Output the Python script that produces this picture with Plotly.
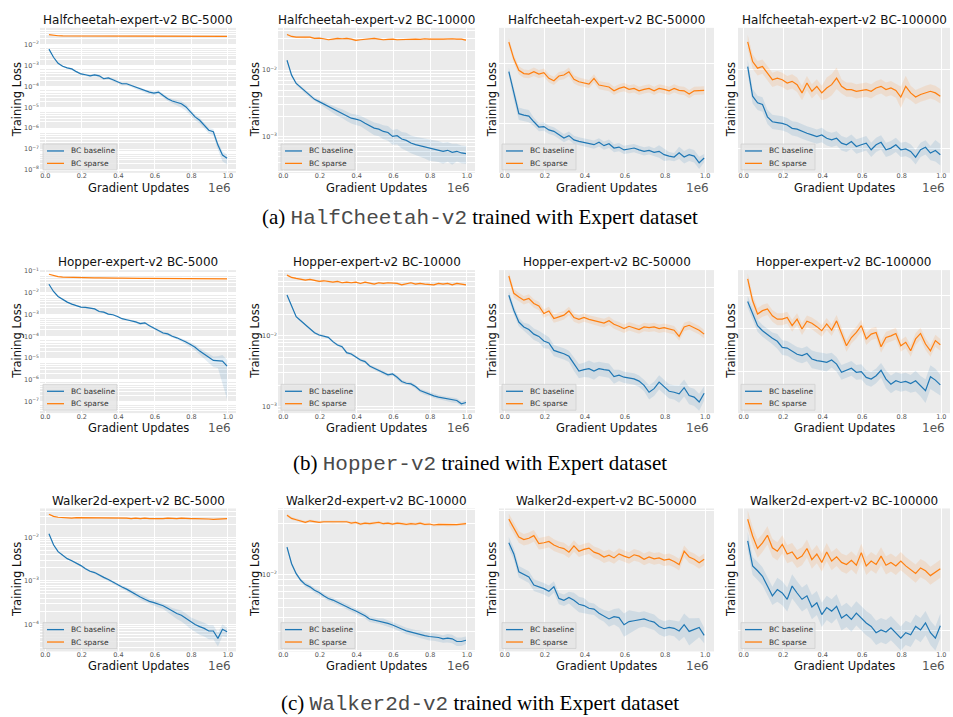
import numpy as np
import plotly.graph_objects as go

# ---------------- data (training loss stored as log10 values) ----------------
updates = [0.02, 0.045, 0.07, 0.095, 0.12, 0.145, 0.17, 0.195, 0.22, 0.245,
           0.27, 0.295, 0.32, 0.345, 0.37, 0.395, 0.42, 0.445, 0.47, 0.495,
           0.52, 0.545, 0.57, 0.595, 0.62, 0.645, 0.67, 0.695, 0.72, 0.745,
           0.77, 0.795, 0.82, 0.845, 0.87, 0.895, 0.92, 0.945, 0.97, 0.995]

# HalfCheetah
hc5k_baseline = [-2.21, -2.60, -2.89, -3.03, -3.11, -3.16, -3.29, -3.40, -3.44, -3.49,
                 -3.45, -3.49, -3.63, -3.59, -3.68, -3.79, -3.87, -3.87, -3.95, -4.06,
                 -4.11, -4.22, -4.27, -4.32, -4.27, -4.43, -4.59, -4.70, -4.75, -4.83,
                 -4.98, -5.22, -5.46, -5.62, -5.86, -6.10, -6.17, -6.81, -7.29, -7.44]
hc5k_sparse = [-1.52, -1.56, -1.57, -1.58, -1.58, -1.58, -1.59, -1.58, -1.58, -1.59,
               -1.58, -1.59, -1.59, -1.58, -1.59, -1.59, -1.59, -1.59, -1.58, -1.59,
               -1.59, -1.59, -1.59, -1.58, -1.59, -1.59, -1.59, -1.58, -1.59, -1.59,
               -1.60, -1.59, -1.59, -1.59, -1.60, -1.59, -1.60, -1.60, -1.60, -1.60]
hc5k_baseline_std = [0.05, 0.06, 0.08, 0.08, 0.08, 0.10, 0.10, 0.12, 0.12, 0.12,
                     0.15, 0.15, 0.12, 0.15, 0.15, 0.15, 0.15, 0.15, 0.15, 0.15,
                     0.18, 0.18, 0.20, 0.20, 0.20, 0.20, 0.22, 0.25, 0.30, 0.35,
                     0.35, 0.30, 0.30, 0.30, 0.30, 0.30, 0.35, 0.40, 0.50, 0.50]
hc5k_sparse_std = [0.03, 0.03, 0.03, 0.03, 0.02, 0.02, 0.02, 0.02, 0.02, 0.02,
                   0.02, 0.02, 0.02, 0.02, 0.02, 0.02, 0.02, 0.02, 0.02, 0.02,
                   0.02, 0.02, 0.02, 0.02, 0.02, 0.02, 0.02, 0.02, 0.02, 0.02,
                   0.02, 0.02, 0.02, 0.02, 0.02, 0.02, 0.02, 0.02, 0.02, 0.02]

hc10k_baseline = [-1.85, -2.075, -2.20, -2.26, -2.325, -2.39, -2.44, -2.475, -2.51, -2.55,
                  -2.59, -2.625, -2.65, -2.69, -2.725, -2.74, -2.76, -2.80, -2.84, -2.875,
                  -2.89, -2.925, -2.94, -3.00, -2.99, -3.04, -3.06, -3.10, -3.125, -3.14,
                  -3.16, -3.18, -3.19, -3.20, -3.225, -3.21, -3.24, -3.225, -3.25, -3.26]
hc10k_sparse = [-1.46, -1.49, -1.50, -1.50, -1.51, -1.50, -1.52, -1.515, -1.525, -1.54,
                -1.53, -1.52, -1.525, -1.52, -1.53, -1.55, -1.54, -1.53, -1.525, -1.52,
                -1.53, -1.54, -1.535, -1.53, -1.54, -1.535, -1.53, -1.525, -1.53, -1.535,
                -1.525, -1.53, -1.535, -1.53, -1.53, -1.525, -1.525, -1.53, -1.53, -1.545]
hc10k_baseline_std = [0.03, 0.04, 0.05, 0.05, 0.06, 0.06, 0.07, 0.08, 0.09, 0.10,
                      0.12, 0.14, 0.15, 0.16, 0.17, 0.18, 0.18, 0.20, 0.20, 0.22,
                      0.22, 0.24, 0.25, 0.25, 0.26, 0.28, 0.30, 0.30, 0.32, 0.32,
                      0.33, 0.35, 0.35, 0.35, 0.35, 0.33, 0.35, 0.30, 0.30, 0.30]
hc10k_sparse_std = [0.03, 0.03, 0.03, 0.03, 0.03, 0.03, 0.03, 0.03, 0.03, 0.03,
                    0.03, 0.03, 0.03, 0.03, 0.03, 0.04, 0.03, 0.03, 0.03, 0.03,
                    0.03, 0.03, 0.03, 0.03, 0.03, 0.03, 0.03, 0.03, 0.03, 0.03,
                    0.03, 0.03, 0.03, 0.03, 0.03, 0.03, 0.03, 0.03, 0.03, 0.03]

hc50k_baseline = [-1.415, -1.461, -1.503, -1.506, -1.508, -1.520, -1.531, -1.530, -1.537, -1.540,
                  -1.547, -1.554, -1.549, -1.558, -1.561, -1.563, -1.565, -1.568, -1.563, -1.570,
                  -1.566, -1.575, -1.573, -1.579, -1.577, -1.575, -1.579, -1.582, -1.580, -1.584,
                  -1.582, -1.589, -1.592, -1.594, -1.585, -1.594, -1.589, -1.592, -1.606, -1.596]
hc50k_sparse = [-1.353, -1.388, -1.412, -1.419, -1.420, -1.415, -1.420, -1.417, -1.429, -1.434,
                -1.424, -1.422, -1.415, -1.431, -1.436, -1.438, -1.441, -1.429, -1.443, -1.445,
                -1.447, -1.455, -1.450, -1.447, -1.452, -1.450, -1.455, -1.452, -1.450, -1.455,
                -1.450, -1.452, -1.455, -1.450, -1.454, -1.455, -1.462, -1.455, -1.454, -1.454]
hc50k_baseline_std = [0.02, 0.03, 0.03, 0.03, 0.03, 0.02, 0.02, 0.02, 0.02, 0.02,
                      0.02, 0.02, 0.02, 0.02, 0.02, 0.02, 0.02, 0.02, 0.02, 0.02,
                      0.02, 0.02, 0.02, 0.02, 0.02, 0.02, 0.02, 0.02, 0.02, 0.02,
                      0.03, 0.03, 0.02, 0.02, 0.03, 0.03, 0.03, 0.03, 0.03, 0.02]
hc50k_sparse_std = [0.02, 0.02, 0.02, 0.02, 0.02, 0.02, 0.02, 0.02, 0.02, 0.02,
                    0.02, 0.02, 0.02, 0.02, 0.02, 0.02, 0.02, 0.02, 0.02, 0.02,
                    0.02, 0.02, 0.02, 0.02, 0.02, 0.02, 0.02, 0.02, 0.02, 0.02,
                    0.02, 0.02, 0.02, 0.02, 0.02, 0.02, 0.02, 0.02, 0.02, 0.02]

hc100k_baseline = [-1.298, -1.334, -1.342, -1.344, -1.359, -1.365, -1.366, -1.367, -1.369, -1.373,
                   -1.374, -1.377, -1.379, -1.381, -1.383, -1.381, -1.385, -1.387, -1.385, -1.391,
                   -1.393, -1.389, -1.395, -1.393, -1.391, -1.399, -1.393, -1.390, -1.399, -1.397,
                   -1.393, -1.399, -1.398, -1.401, -1.408, -1.399, -1.396, -1.403, -1.400, -1.405]
hc100k_sparse = [-1.268, -1.292, -1.300, -1.298, -1.306, -1.314, -1.312, -1.314, -1.318, -1.316,
                 -1.320, -1.330, -1.318, -1.328, -1.322, -1.330, -1.324, -1.320, -1.312, -1.322,
                 -1.326, -1.326, -1.328, -1.327, -1.326, -1.328, -1.324, -1.322, -1.326, -1.324,
                 -1.327, -1.335, -1.322, -1.330, -1.335, -1.332, -1.330, -1.328, -1.330, -1.334]
hc100k_baseline_std = [0.02, 0.02, 0.02, 0.02, 0.02, 0.02, 0.02, 0.02, 0.02, 0.02,
                       0.02, 0.02, 0.02, 0.02, 0.02, 0.02, 0.02, 0.02, 0.02, 0.02,
                       0.02, 0.02, 0.02, 0.02, 0.02, 0.02, 0.02, 0.02, 0.02, 0.02,
                       0.02, 0.02, 0.02, 0.02, 0.02, 0.02, 0.02, 0.02, 0.03, 0.03]
hc100k_sparse_std = [0.02, 0.02, 0.02, 0.02, 0.02, 0.02, 0.02, 0.02, 0.02, 0.02,
                     0.02, 0.02, 0.02, 0.02, 0.02, 0.02, 0.03, 0.03, 0.03, 0.02,
                     0.02, 0.02, 0.02, 0.02, 0.02, 0.02, 0.02, 0.02, 0.02, 0.02,
                     0.02, 0.03, 0.03, 0.02, 0.02, 0.02, 0.02, 0.02, 0.02, 0.02]

# Hopper
hop5k_baseline = [-1.61, -1.94, -2.17, -2.32, -2.43, -2.52, -2.58, -2.66, -2.67, -2.70,
                  -2.74, -2.86, -2.89, -2.98, -3.01, -3.09, -3.19, -3.24, -3.28, -3.34,
                  -3.42, -3.38, -3.52, -3.62, -3.74, -3.85, -3.89, -4.00, -4.07, -4.15,
                  -4.26, -4.38, -4.50, -4.68, -4.84, -4.96, -5.11, -5.11, -5.14, -5.37]
hop5k_sparse = [-1.15, -1.22, -1.26, -1.28, -1.29, -1.30, -1.31, -1.31, -1.32, -1.32,
                -1.32, -1.32, -1.33, -1.33, -1.33, -1.33, -1.33, -1.34, -1.34, -1.34,
                -1.34, -1.34, -1.34, -1.34, -1.35, -1.35, -1.35, -1.35, -1.35, -1.35,
                -1.35, -1.35, -1.35, -1.36, -1.35, -1.36, -1.36, -1.36, -1.36, -1.36]
hop5k_baseline_std = [0.04, 0.05, 0.05, 0.05, 0.05, 0.06, 0.06, 0.06, 0.06, 0.07,
                      0.07, 0.08, 0.08, 0.08, 0.08, 0.10, 0.10, 0.10, 0.10, 0.10,
                      0.12, 0.12, 0.12, 0.12, 0.12, 0.15, 0.15, 0.15, 0.15, 0.18,
                      0.20, 0.25, 0.30, 0.35, 0.40, 0.45, 0.50, 0.55, 0.90, 0.97]
hop5k_sparse_std = [0.03, 0.03, 0.03, 0.03, 0.03, 0.03, 0.03, 0.03, 0.03, 0.03,
                    0.03, 0.03, 0.03, 0.03, 0.03, 0.03, 0.03, 0.03, 0.03, 0.03,
                    0.03, 0.03, 0.03, 0.03, 0.03, 0.03, 0.03, 0.03, 0.03, 0.03,
                    0.03, 0.03, 0.03, 0.03, 0.03, 0.03, 0.03, 0.03, 0.03, 0.03]

hop10k_baseline = [-1.420, -1.585, -1.726, -1.783, -1.844, -1.906, -1.953, -1.986, -2.000, -2.019,
                   -2.080, -2.127, -2.151, -2.236, -2.255, -2.292, -2.340, -2.363, -2.425, -2.458,
                   -2.491, -2.519, -2.552, -2.538, -2.585, -2.646, -2.670, -2.679, -2.717, -2.774,
                   -2.802, -2.821, -2.849, -2.868, -2.882, -2.896, -2.906, -2.915, -2.962, -2.943]
hop10k_sparse = [-1.137, -1.170, -1.184, -1.198, -1.208, -1.198, -1.217, -1.226, -1.217, -1.226,
                 -1.236, -1.226, -1.245, -1.236, -1.245, -1.236, -1.255, -1.236, -1.245, -1.264,
                 -1.245, -1.255, -1.245, -1.245, -1.255, -1.274, -1.255, -1.245, -1.264, -1.255,
                 -1.264, -1.264, -1.274, -1.255, -1.264, -1.255, -1.274, -1.255, -1.264, -1.274]
hop10k_baseline_std = [0.03, 0.03, 0.03, 0.03, 0.03, 0.03, 0.04, 0.04, 0.04, 0.04,
                       0.04, 0.04, 0.05, 0.05, 0.05, 0.05, 0.05, 0.05, 0.05, 0.05,
                       0.05, 0.05, 0.06, 0.06, 0.06, 0.06, 0.06, 0.06, 0.06, 0.06,
                       0.07, 0.07, 0.07, 0.07, 0.07, 0.07, 0.08, 0.08, 0.08, 0.08]
hop10k_sparse_std = [0.03, 0.03, 0.03, 0.03, 0.03, 0.03, 0.03, 0.03, 0.03, 0.03,
                     0.03, 0.03, 0.03, 0.03, 0.03, 0.03, 0.03, 0.03, 0.03, 0.03,
                     0.03, 0.03, 0.03, 0.03, 0.03, 0.03, 0.03, 0.03, 0.03, 0.03,
                     0.03, 0.03, 0.03, 0.03, 0.03, 0.03, 0.03, 0.03, 0.03, 0.03]

hop50k_baseline = [-1.246, -1.292, -1.328, -1.343, -1.351, -1.365, -1.372, -1.386, -1.392, -1.415,
                   -1.420, -1.425, -1.433, -1.456, -1.478, -1.474, -1.471, -1.478, -1.471, -1.474,
                   -1.476, -1.495, -1.491, -1.497, -1.499, -1.502, -1.509, -1.522, -1.543, -1.532,
                   -1.512, -1.527, -1.540, -1.543, -1.548, -1.529, -1.553, -1.558, -1.573, -1.546]
hop50k_sparse = [-1.187, -1.240, -1.251, -1.261, -1.256, -1.271, -1.279, -1.302, -1.294, -1.317,
                 -1.312, -1.307, -1.294, -1.314, -1.320, -1.314, -1.320, -1.324, -1.328, -1.331,
                 -1.324, -1.335, -1.341, -1.348, -1.341, -1.345, -1.351, -1.343, -1.345, -1.343,
                 -1.348, -1.345, -1.348, -1.353, -1.372, -1.343, -1.338, -1.345, -1.353, -1.365]
hop50k_baseline_std = [0.03, 0.03, 0.03, 0.03, 0.04, 0.04, 0.04, 0.05, 0.04, 0.04,
                       0.04, 0.04, 0.04, 0.05, 0.05, 0.05, 0.06, 0.06, 0.05, 0.05,
                       0.05, 0.05, 0.04, 0.04, 0.04, 0.04, 0.04, 0.04, 0.05, 0.05,
                       0.05, 0.05, 0.05, 0.05, 0.06, 0.06, 0.06, 0.06, 0.06, 0.05]
hop50k_sparse_std = [0.03, 0.03, 0.03, 0.03, 0.03, 0.03, 0.03, 0.03, 0.03, 0.03,
                     0.03, 0.03, 0.03, 0.03, 0.03, 0.03, 0.03, 0.03, 0.03, 0.03,
                     0.03, 0.03, 0.03, 0.03, 0.03, 0.03, 0.03, 0.03, 0.03, 0.03,
                     0.03, 0.03, 0.03, 0.03, 0.03, 0.03, 0.03, 0.03, 0.03, 0.03]

hop100k_baseline = [-1.318, -1.355, -1.389, -1.404, -1.416, -1.426, -1.435, -1.453, -1.455, -1.463,
                    -1.473, -1.477, -1.471, -1.487, -1.492, -1.494, -1.497, -1.490, -1.502, -1.526,
                    -1.520, -1.514, -1.526, -1.524, -1.541, -1.546, -1.536, -1.520, -1.546, -1.561,
                    -1.551, -1.556, -1.553, -1.559, -1.551, -1.566, -1.580, -1.539, -1.549, -1.563]
hop100k_sparse = [-1.252, -1.316, -1.355, -1.345, -1.340, -1.360, -1.370, -1.370, -1.365, -1.389,
                  -1.370, -1.399, -1.376, -1.382, -1.392, -1.404, -1.384, -1.402, -1.375, -1.409,
                  -1.448, -1.424, -1.409, -1.389, -1.428, -1.414, -1.409, -1.451, -1.424, -1.419,
                  -1.412, -1.448, -1.438, -1.463, -1.428, -1.412, -1.443, -1.463, -1.433, -1.445]
hop100k_baseline_std = [0.04, 0.04, 0.04, 0.04, 0.04, 0.04, 0.05, 0.05, 0.05, 0.05,
                        0.05, 0.05, 0.05, 0.06, 0.06, 0.06, 0.06, 0.05, 0.05, 0.05,
                        0.05, 0.05, 0.05, 0.05, 0.05, 0.05, 0.05, 0.05, 0.06, 0.06,
                        0.06, 0.06, 0.06, 0.06, 0.07, 0.07, 0.08, 0.08, 0.08, 0.07]
hop100k_sparse_std = [0.04, 0.04, 0.04, 0.04, 0.04, 0.04, 0.04, 0.04, 0.04, 0.04,
                      0.04, 0.04, 0.04, 0.04, 0.04, 0.04, 0.04, 0.04, 0.04, 0.04,
                      0.04, 0.04, 0.04, 0.04, 0.04, 0.04, 0.04, 0.04, 0.04, 0.04,
                      0.04, 0.04, 0.04, 0.04, 0.04, 0.04, 0.04, 0.04, 0.04, 0.04]

# Walker2d
wk5k_baseline = [-1.92, -2.17, -2.33, -2.42, -2.49, -2.54, -2.59, -2.65, -2.72, -2.78,
                 -2.81, -2.87, -2.92, -2.97, -3.03, -3.09, -3.14, -3.19, -3.25, -3.32,
                 -3.37, -3.42, -3.47, -3.50, -3.54, -3.57, -3.63, -3.70, -3.75, -3.79,
                 -3.86, -3.95, -4.00, -4.05, -4.09, -4.15, -4.15, -4.32, -4.11, -4.17]
wk5k_sparse = [-1.47, -1.52, -1.54, -1.55, -1.55, -1.56, -1.55, -1.55, -1.56, -1.55,
               -1.55, -1.56, -1.55, -1.56, -1.56, -1.55, -1.56, -1.56, -1.57, -1.56,
               -1.57, -1.56, -1.57, -1.57, -1.58, -1.57, -1.56, -1.57, -1.57, -1.56,
               -1.57, -1.57, -1.57, -1.57, -1.58, -1.58, -1.59, -1.58, -1.57, -1.57]
wk5k_baseline_std = [0.04, 0.04, 0.04, 0.04, 0.04, 0.05, 0.05, 0.05, 0.05, 0.05,
                     0.06, 0.06, 0.06, 0.06, 0.07, 0.08, 0.08, 0.10, 0.12, 0.12,
                     0.13, 0.13, 0.14, 0.15, 0.15, 0.16, 0.18, 0.20, 0.25, 0.28,
                     0.30, 0.30, 0.32, 0.35, 0.35, 0.35, 0.35, 0.35, 0.30, 0.25]
wk5k_sparse_std = [0.03, 0.03, 0.03, 0.03, 0.03, 0.03, 0.03, 0.03, 0.03, 0.03,
                   0.03, 0.03, 0.03, 0.03, 0.03, 0.03, 0.03, 0.03, 0.03, 0.03,
                   0.03, 0.03, 0.03, 0.03, 0.03, 0.03, 0.03, 0.03, 0.03, 0.03,
                   0.03, 0.03, 0.03, 0.03, 0.03, 0.03, 0.03, 0.03, 0.03, 0.03]

wk10k_baseline = [-1.746, -1.899, -1.991, -2.052, -2.092, -2.113, -2.144, -2.165, -2.196, -2.220,
                  -2.235, -2.257, -2.275, -2.297, -2.318, -2.336, -2.358, -2.379, -2.410, -2.419,
                  -2.428, -2.434, -2.450, -2.465, -2.480, -2.502, -2.520, -2.532, -2.541, -2.550,
                  -2.563, -2.572, -2.575, -2.581, -2.593, -2.587, -2.593, -2.618, -2.618, -2.606]
wk10k_sparse = [-1.450, -1.480, -1.492, -1.502, -1.517, -1.502, -1.511, -1.517, -1.511, -1.511,
                -1.517, -1.511, -1.517, -1.511, -1.523, -1.517, -1.532, -1.523, -1.529, -1.523,
                -1.517, -1.529, -1.523, -1.532, -1.523, -1.529, -1.535, -1.529, -1.532, -1.523,
                -1.535, -1.532, -1.541, -1.535, -1.535, -1.541, -1.535, -1.538, -1.532, -1.529]
wk10k_baseline_std = [0.04, 0.04, 0.04, 0.04, 0.05, 0.05, 0.05, 0.05, 0.05, 0.05,
                      0.05, 0.05, 0.05, 0.06, 0.06, 0.06, 0.06, 0.06, 0.06, 0.06,
                      0.06, 0.07, 0.07, 0.07, 0.07, 0.07, 0.07, 0.07, 0.07, 0.08,
                      0.08, 0.08, 0.08, 0.08, 0.08, 0.09, 0.09, 0.09, 0.09, 0.08]
wk10k_sparse_std = [0.03, 0.03, 0.03, 0.03, 0.03, 0.03, 0.03, 0.03, 0.03, 0.03,
                    0.03, 0.03, 0.03, 0.03, 0.03, 0.03, 0.03, 0.03, 0.03, 0.03,
                    0.03, 0.03, 0.03, 0.03, 0.03, 0.03, 0.03, 0.03, 0.03, 0.03,
                    0.03, 0.03, 0.03, 0.03, 0.03, 0.03, 0.03, 0.03, 0.03, 0.03]

wk50k_baseline = [-1.595, -1.620, -1.660, -1.666, -1.672, -1.690, -1.694, -1.698, -1.704, -1.694,
                  -1.720, -1.724, -1.718, -1.724, -1.733, -1.736, -1.742, -1.744, -1.753, -1.759,
                  -1.766, -1.761, -1.763, -1.779, -1.772, -1.770, -1.768, -1.766, -1.770, -1.773,
                  -1.783, -1.788, -1.785, -1.787, -1.793, -1.779, -1.794, -1.790, -1.785, -1.803]
wk50k_sparse = [-1.542, -1.562, -1.582, -1.588, -1.585, -1.579, -1.597, -1.595, -1.592, -1.600,
                -1.605, -1.608, -1.616, -1.602, -1.614, -1.610, -1.607, -1.616, -1.620, -1.627,
                -1.623, -1.629, -1.620, -1.625, -1.629, -1.622, -1.625, -1.632, -1.627, -1.631,
                -1.629, -1.634, -1.632, -1.637, -1.644, -1.614, -1.627, -1.632, -1.640, -1.632]
wk50k_baseline_std = [0.03, 0.03, 0.03, 0.03, 0.03, 0.03, 0.03, 0.03, 0.03, 0.03,
                      0.03, 0.03, 0.03, 0.04, 0.04, 0.04, 0.03, 0.03, 0.03, 0.03,
                      0.04, 0.04, 0.05, 0.06, 0.06, 0.05, 0.04, 0.04, 0.04, 0.04,
                      0.04, 0.04, 0.04, 0.04, 0.05, 0.06, 0.07, 0.06, 0.05, 0.04]
wk50k_sparse_std = [0.03, 0.03, 0.03, 0.03, 0.03, 0.03, 0.03, 0.03, 0.03, 0.03,
                    0.03, 0.03, 0.03, 0.03, 0.03, 0.03, 0.03, 0.03, 0.03, 0.03,
                    0.03, 0.03, 0.03, 0.03, 0.03, 0.03, 0.03, 0.03, 0.03, 0.03,
                    0.03, 0.03, 0.03, 0.03, 0.03, 0.03, 0.03, 0.03, 0.03, 0.03]

wk100k_baseline = [-1.570, -1.606, -1.613, -1.621, -1.635, -1.649, -1.640, -1.645, -1.654, -1.635,
                   -1.645, -1.654, -1.649, -1.665, -1.659, -1.676, -1.666, -1.671, -1.664, -1.681,
                   -1.676, -1.683, -1.674, -1.681, -1.688, -1.693, -1.702, -1.698, -1.701, -1.695,
                   -1.702, -1.710, -1.702, -1.705, -1.693, -1.698, -1.688, -1.702, -1.710, -1.692]
wk100k_sparse = [-1.539, -1.563, -1.581, -1.573, -1.562, -1.580, -1.585, -1.575, -1.589, -1.586,
                 -1.596, -1.592, -1.581, -1.597, -1.589, -1.601, -1.586, -1.599, -1.593, -1.601,
                 -1.604, -1.598, -1.605, -1.587, -1.606, -1.599, -1.604, -1.592, -1.605, -1.601,
                 -1.606, -1.599, -1.606, -1.611, -1.617, -1.609, -1.613, -1.620, -1.615, -1.610]
wk100k_baseline_std = [0.03, 0.03, 0.03, 0.03, 0.03, 0.03, 0.04, 0.04, 0.04, 0.04,
                       0.04, 0.04, 0.04, 0.04, 0.04, 0.04, 0.04, 0.04, 0.04, 0.04,
                       0.04, 0.04, 0.04, 0.04, 0.04, 0.04, 0.04, 0.04, 0.04, 0.04,
                       0.04, 0.04, 0.04, 0.04, 0.04, 0.04, 0.04, 0.04, 0.04, 0.04]
wk100k_sparse_std = [0.03, 0.03, 0.03, 0.03, 0.03, 0.03, 0.03, 0.03, 0.03, 0.03,
                     0.03, 0.03, 0.03, 0.03, 0.03, 0.03, 0.03, 0.03, 0.03, 0.03,
                     0.03, 0.03, 0.03, 0.03, 0.03, 0.03, 0.03, 0.03, 0.03, 0.03,
                     0.03, 0.03, 0.03, 0.03, 0.03, 0.03, 0.03, 0.03, 0.03, 0.03]

series_names = ["BC baseline", "BC sparse"]
captions = [("(a) ", "HalfCheetah-v2", " trained with Expert dataset"),
            ("(b) ", "Hopper-v2", " trained with Expert dataset"),
            ("(c) ", "Walker2d-v2", " trained with Expert dataset")]

panels = [
    ("Halfcheetah-expert-v2 BC-5000", hc5k_baseline, hc5k_sparse, hc5k_baseline_std, hc5k_sparse_std, [-8.14, -1.19]),
    ("Halfcheetah-expert-v2 BC-10000", hc10k_baseline, hc10k_sparse, hc10k_baseline_std, hc10k_sparse_std, [-3.55, -1.36]),
    ("Halfcheetah-expert-v2 BC-50000", hc50k_baseline, hc50k_sparse, hc50k_baseline_std, hc50k_sparse_std, [-1.627, -1.323]),
    ("Halfcheetah-expert-v2 BC-100000", hc100k_baseline, hc100k_sparse, hc100k_baseline_std, hc100k_sparse_std, [-1.427, -1.251]),
    ("Hopper-expert-v2 BC-5000", hop5k_baseline, hop5k_sparse, hop5k_baseline_std, hop5k_sparse_std, [-7.53, -0.96]),
    ("Hopper-expert-v2 BC-10000", hop10k_baseline, hop10k_sparse, hop10k_baseline_std, hop10k_sparse_std, [-3.094, -1.066]),
    ("Hopper-expert-v2 BC-50000", hop50k_baseline, hop50k_sparse, hop50k_baseline_std, hop50k_sparse_std, [-1.607, -1.169]),
    ("Hopper-expert-v2 BC-100000", hop100k_baseline, hop100k_sparse, hop100k_baseline_std, hop100k_sparse_std, [-1.646, -1.226]),
    ("Walker2d-expert-v2 BC-5000", wk5k_baseline, wk5k_sparse, wk5k_baseline_std, wk5k_sparse_std, [-4.62, -1.338]),
    ("Walker2d-expert-v2 BC-10000", wk10k_baseline, wk10k_sparse, wk10k_baseline_std, wk10k_sparse_std, [-2.71, -1.388]),
    ("Walker2d-expert-v2 BC-50000", wk50k_baseline, wk50k_sparse, wk50k_baseline_std, wk50k_sparse_std, [-1.839, -1.518]),
    ("Walker2d-expert-v2 BC-100000", wk100k_baseline, wk100k_sparse, wk100k_baseline_std, wk100k_sparse_std, [-1.729, -1.5235]),
]

# ---------------- layout geometry (pixels) ----------------
W, H = 953, 717
COLS = [(40, 236), (278, 475), (499, 714), (738, 950)]
ROWS = [(24, 170), (268, 412), (508, 652)]
CAPTION_Y = [215, 463, 704]
XRANGE = [-0.029, 1.044]

LINE_COLORS = ["#1f77b4", "#ff7f0e"]
FILL_COLORS = ["rgba(31,119,180,0.13)", "rgba(255,127,14,0.13)"]
BG = "#EBEBEB"
FONT = "DejaVu Sans"


def px(x):
    return x / W


def py(y):
    return 1 - y / H


major_vals = [10.0 ** k for k in range(-9, 1)]
major_text = [("10<sup>\u2212%d</sup>" % (-k)) if k < 0 else "10<sup>0</sup>" for k in range(-9, 1)]
minor_vals = [m * 10.0 ** k for k in range(-9, 1) for m in range(2, 10)]

fig = go.Figure()
annotations = []
shapes = []
layout_extra = {}

x_arr = np.array(updates)
for i, (title, base, sparse, base_std, sparse_std, yrange) in enumerate(panels):
    r, c = divmod(i, 4)
    x0, x1 = COLS[c]
    y0, y1 = ROWS[r]
    sfx = "" if i == 0 else str(i + 1)
    xa, ya = "x" + sfx, "y" + sfx

    for s, (vals, std) in enumerate([(base, base_std), (sparse, sparse_std)]):
        n = len(vals)
        xs = x_arr[:n]
        mean = 10.0 ** np.array(vals, dtype=float)
        f = np.clip(np.array(std[:n], dtype=float), 0, 0.99)
        upper = mean * (1 + f)
        lower = mean * (1 - f)
        fig.add_trace(go.Scatter(
            x=np.concatenate([xs, xs[::-1]]), y=np.concatenate([upper, lower[::-1]]),
            fill="toself", fillcolor=FILL_COLORS[s], line=dict(width=0),
            mode="lines", hoverinfo="skip", showlegend=False, xaxis=xa, yaxis=ya))
    for s, vals in enumerate([base, sparse]):
        n = len(vals)
        fig.add_trace(go.Scatter(
            x=x_arr[:n], y=10.0 ** np.array(vals, dtype=float), mode="lines",
            name=series_names[s], line=dict(color=LINE_COLORS[s], width=1.2),
            xaxis=xa, yaxis=ya, showlegend=False))

    show_ylabels = c < 2
    layout_extra["xaxis" + sfx] = dict(
        domain=[px(x0), px(x1)], range=XRANGE, anchor=ya,
        tickmode="array", tickvals=[0, 0.2, 0.4, 0.6, 0.8, 1.0],
        ticktext=["0.0", "0.2", "0.4", "0.6", "0.8", "1.0"],
        showgrid=True, gridcolor="white", gridwidth=1, zeroline=False,
        showline=False, ticks="", ticklabelstandoff=-2,
        tickfont=dict(size=6.5, color="#555555", family=FONT),
        fixedrange=True)
    layout_extra["yaxis" + sfx] = dict(
        domain=[py(y1), py(y0)], type="log", range=yrange, anchor=xa,
        tickmode="array", tickvals=major_vals, ticktext=major_text,
        showticklabels=show_ylabels,
        showgrid=True, gridcolor="white", gridwidth=1, zeroline=False,
        showline=False, ticks="", tickfont=dict(size=6.5, color="#555555", family=FONT),
        minor=dict(tickmode="array", tickvals=minor_vals, showgrid=True,
                   gridcolor="white", gridwidth=0.7, ticks=""),
        fixedrange=True)

    # legend box (drawn per panel, lower-left like the reference)
    lx0, lx1 = x0 + 3, x0 + 77
    ly1, ly0 = y1 - 3, y1 - 29
    shapes.append(dict(type="rect", xref="paper", yref="paper", layer="above",
                       x0=px(lx0), x1=px(lx1), y0=py(ly1), y1=py(ly0),
                       fillcolor="rgba(229,229,229,0.85)", line=dict(color="#CFCFCF", width=0.8)))
    for s, name in enumerate(series_names):
        ey = ly0 + 7 + 12.5 * s
        shapes.append(dict(type="line", xref="paper", yref="paper", layer="above",
                           x0=px(lx0 + 4), x1=px(lx0 + 21), y0=py(ey), y1=py(ey),
                           line=dict(color=LINE_COLORS[s], width=1.3)))
        annotations.append(dict(text=name, x=px(lx0 + 26), y=py(ey), xref="paper", yref="paper",
                                showarrow=False, xanchor="left", yanchor="middle",
                                font=dict(size=7.5, color="#333333", family=FONT)))

    cx = (x0 + x1) / 2
    annotations.append(dict(text=title, x=px(cx), y=py(y0 - 8), xref="paper", yref="paper",
                            showarrow=False, xanchor="center", yanchor="middle",
                            font=dict(size=12, color="#111111", family=FONT)))
    annotations.append(dict(text="Gradient Updates", x=px(cx), y=py(y1 + 15), xref="paper", yref="paper",
                            showarrow=False, xanchor="center", yanchor="middle",
                            font=dict(size=11.5, color="#111111", family=FONT)))
    annotations.append(dict(text="1e6", x=px(x1 - 3), y=py(y1 + 15), xref="paper", yref="paper",
                            showarrow=False, xanchor="right", yanchor="middle",
                            font=dict(size=12, color="#555555", family=FONT)))
    off = 23 if show_ylabels else 7
    annotations.append(dict(text="Training Loss", x=px(x0 - off), y=py((y0 + y1) / 2),
                            xref="paper", yref="paper", showarrow=False, textangle=-90,
                            xanchor="center", yanchor="middle",
                            font=dict(size=11.5, color="#111111", family=FONT)))

for (pre, mono, post), cy in zip(captions, CAPTION_Y):
    annotations.append(dict(
        text=pre + "<span style=\"font-family:'Liberation Mono';color:#4a4a4a\">" + mono + "</span>" + post,
        x=px(480), y=py(cy), xref="paper", yref="paper", showarrow=False,
        xanchor="center", yanchor="middle",
        font=dict(size=21, color="#000000", family="Liberation Serif")))

fig.update_layout(
    width=W, height=H, autosize=False,
    margin=dict(l=0, r=0, t=0, b=0),
    paper_bgcolor="white", plot_bgcolor=BG,
    showlegend=False,
    annotations=annotations, shapes=shapes,
    **layout_extra)

fig.write_html("out.html", config={"displayModeBar": False},
               post_script="document.body.style.margin='0px';document.body.style.overflow='hidden';")
